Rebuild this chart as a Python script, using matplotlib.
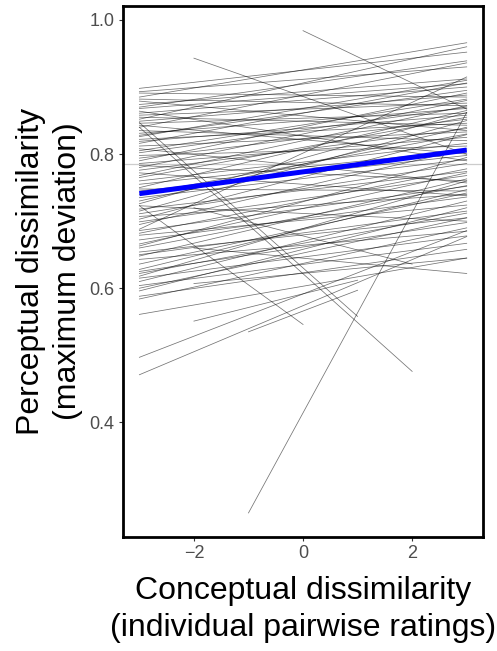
import numpy as np
import matplotlib
matplotlib.use("Agg")
import matplotlib.pyplot as plt

plt.rcParams['font.family'] = ['Liberation Sans', 'DejaVu Sans']

# individual regression lines: start x/y, end x/y
# full span lines (-3 -> 3)
y_left = [0.898, 0.891, 0.885, 0.879, 0.874, 0.870, 0.864, 0.861, 0.858, 0.852,
          0.846, 0.840, 0.835, 0.828, 0.822, 0.816, 0.808, 0.802, 0.790, 0.786,
          0.780, 0.772, 0.765, 0.760, 0.750, 0.745, 0.730, 0.723, 0.715, 0.711,
          0.703, 0.699, 0.688, 0.682, 0.679, 0.666, 0.660, 0.654, 0.648, 0.643,
          0.628, 0.622, 0.615, 0.610, 0.604, 0.596, 0.588, 0.584, 0.561, 0.497,
          0.471,
          0.893, 0.882, 0.868, 0.855, 0.849, 0.843, 0.831, 0.826, 0.819, 0.812,
          0.805, 0.798, 0.794, 0.783, 0.776, 0.768, 0.755, 0.748, 0.740, 0.735,
          0.726, 0.718, 0.707, 0.695, 0.686, 0.672, 0.663, 0.650, 0.636, 0.625,
          0.618, 0.600]
y_right = [0.952, 0.885, 0.966, 0.835, 0.912, 0.939, 0.790, 0.900, 0.876, 0.960,
           0.861, 0.936, 0.820, 0.895, 0.846, 0.906, 0.757, 0.870, 0.891, 0.825,
           0.880, 0.738, 0.855, 0.816, 0.865, 0.798, 0.840, 0.700, 0.850, 0.786,
           0.829, 0.768, 0.915, 0.778, 0.724, 0.772, 0.753, 0.705, 0.763, 0.685,
           0.747, 0.712, 0.678, 0.730, 0.667, 0.720, 0.658, 0.690, 0.645, 0.686,
           0.677,
           0.930, 0.872, 0.905, 0.843, 0.888, 0.800, 0.868, 0.910, 0.858, 0.833,
           0.882, 0.812, 0.852, 0.760, 0.838, 0.872, 0.806, 0.745, 0.830, 0.792,
           0.862, 0.774, 0.740, 0.808, 0.752, 0.736, 0.795, 0.715, 0.742, 0.698,
           0.760, 0.705]

# partial lines
part_x0 = [-1, 0, -2, -2, -1, -3, -3, -2, -2, -3, -2]
part_y0 = [0.265, 0.984, 0.943, 0.551, 0.535, 0.723, 0.840, 0.720, 0.607, 0.847, 0.660]
part_x1 = [3, 3, 3, 1, 1, 0, 2, 2, 3, 1, 3]
part_y1 = [0.862, 0.867, 0.800, 0.612, 0.597, 0.546, 0.476, 0.636, 0.645, 0.558, 0.622]

# overall fit
fit_x = [-3, 3]
fit_y = [0.741, 0.806]
mean_y = 0.785

fig = plt.figure(figsize=(4.97, 6.51), dpi=100)
ax = fig.add_axes([0.2475, 0.175, 0.7245, 0.816])

ax.axhline(mean_y, color="#cccccc", lw=0.9, zorder=1)

for a, b in zip(y_left, y_right):
    ax.plot([-3, 3], [a, b], color="black", lw=0.55, alpha=0.55, zorder=2)
for xa, ya, xb, yb in zip(part_x0, part_y0, part_x1, part_y1):
    ax.plot([xa, xb], [ya, yb], color="black", lw=0.55, alpha=0.55, zorder=2)

ax.plot(fit_x, fit_y, color="#0000ff", lw=3.6, zorder=3, solid_capstyle="butt")

ax.set_xlim(-3.3, 3.3)
ax.set_ylim(0.229, 1.021)
ax.set_xticks([-2, 0, 2])
ax.set_yticks([0.4, 0.6, 0.8, 1.0])
ax.set_yticklabels(["0.4", "0.6", "0.8", "1.0"])

for s in ax.spines.values():
    s.set_linewidth(2.0)
    s.set_color("black")

ax.tick_params(length=3, width=0.8, color="#333333", labelcolor="#4d4d4d",
               labelsize=13, pad=3)

ax.set_xlabel("Conceptual dissimilarity\n(individual pairwise ratings)",
              fontsize=23, labelpad=10, linespacing=1.3)
ax.set_ylabel("Perceptual dissimilarity\n(maximum deviation)",
              fontsize=23, labelpad=5, linespacing=1.3)

fig.savefig("out.png", dpi=100)
